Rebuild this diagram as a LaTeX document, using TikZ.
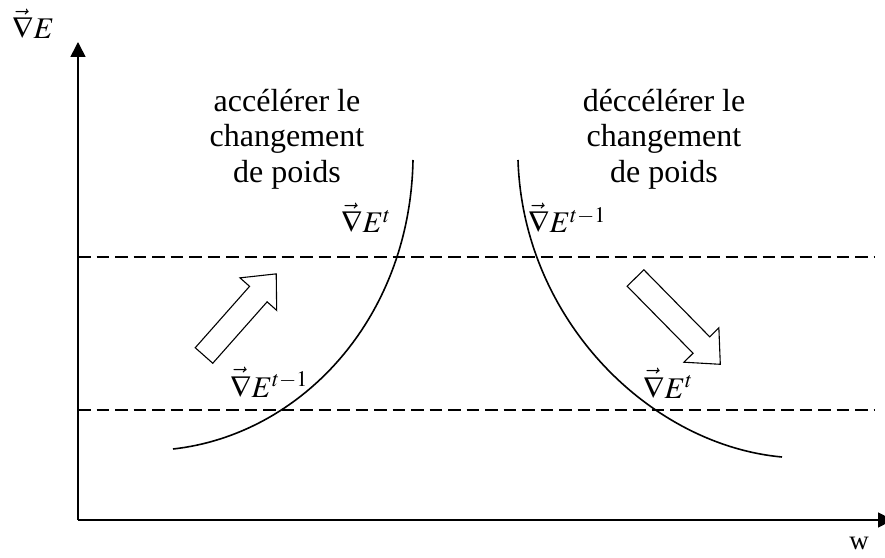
\documentclass[tikz,border=0pt]{standalone}
\usepackage{mathptmx}
\usepackage[no-math]{fontspec}
\setmainfont{Liberation Serif}
\usetikzlibrary{arrows.meta}
\newcommand{\blockarrow}[4]{%
  \begin{scope}[shift={(#1,#2)}, rotate=#3]
    % shaft and head, tail at local origin
    \draw[line width=1.1pt, fill=white] (0,-11.7) -- ({#4-27},-11.7) -- ({#4-27},-24.5)
      -- (#4,0) -- ({#4-27},24.5) -- ({#4-27},11.7) -- (0,11.7) -- cycle;
  \end{scope}
}

\begin{document}
\begin{tikzpicture}[
    x=1pt, y=1pt,
    axis/.style={line width=1.6pt, -{Triangle[length=15pt,width=15pt]}},
    level/.style={line width=1.4pt, dash pattern=on 12.5pt off 6pt},
    curve/.style={line width=1.6pt},
    txt/.style={font=\fontsize{32}{35.5}\selectfont, align=center, inner sep=0pt},
    eq/.style={font=\fontsize{30}{32}\selectfont, inner sep=0pt, anchor=base west},
]
\useasboundingbox (0,0) rectangle (885,557);

% ---------- axes ----------
\coordinate (O) at (78,37);
\coordinate (ytop) at (78,515);
\coordinate (xend) at (893,37);
\draw[axis] (O) -- (ytop);
\draw[axis] (O) -- (xend);
\node[eq] (ylab) at (12,518) {$\vec{\nabla}E$};
\node[font=\fontsize{27}{28}\selectfont, inner sep=0pt, anchor=base] (xlab) at (859,8) {w};

% ---------- gradient levels ----------
\draw[level] (78,300) -- (875,300);
\draw[level] (78,147) -- (875,147);

% ---------- error curves ----------
\draw[curve] (173,108) .. controls (300,122) and (410,237) .. (413,397);
\draw[curve] (518,397) .. controls (523,237) and (650,112) .. (782,100);

% ---------- weight change arrows ----------
\blockarrow{204}{201.5}{48.5}{109}
\blockarrow{635.5}{279}{-45.5}{121}

% ---------- labels ----------
\node[txt] (acc) at (287,418) {accélérer le\\changement\\de poids};
\node[txt] (dec) at (664,418) {déccélérer le\\changement\\de poids};
\node[eq] (gl-top) at (341,324) {$\vec{\nabla}E^{t}$};
\node[eq] (gr-top) at (528,324) {$\vec{\nabla}E^{t-1}$};
\node[eq] (gl-bot) at (230,160) {$\vec{\nabla}E^{t-1}$};
\node[eq] (gr-bot) at (643,159) {$\vec{\nabla}E^{t}$};

\end{tikzpicture}
\end{document}
